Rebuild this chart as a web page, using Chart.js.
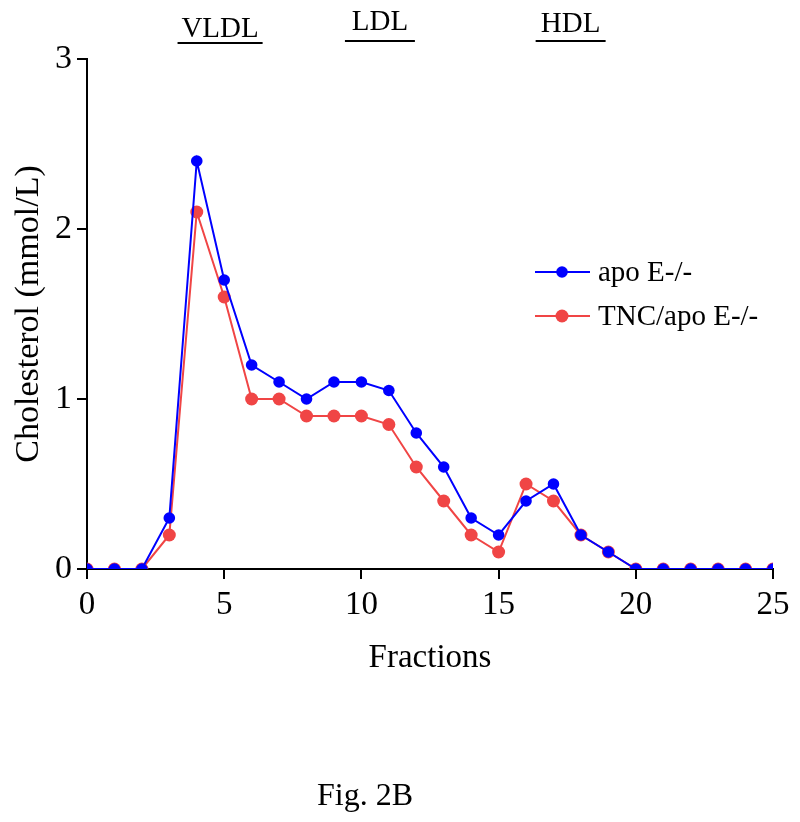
<!doctype html>
<html lang="en">
  <head>
    <meta charset="utf-8">
    <title>Fig. 2B</title>
    <style>
      * { margin: 0; padding: 0; }
      body { background: #fff; }
    </style>
  </head>
  <body>
    <canvas id="chart" width="800" height="822"></canvas>
    <script src="https://cdn.jsdelivr.net/npm/chart.js/dist/chart.umd.min.js"></script>
    <script>
    // data
    const fractions = [0,1,2,3,4,5,6,7,8,9,10,11,12,13,14,15,16,17,18,19,20,21,22,23,24,25];
    const apoE =    [0,0,0,0.3,2.4,1.7,1.2,1.1,1.0,1.1,1.1,1.05,0.8,0.6,0.3,0.2,0.4,0.5,0.2,0.1,0,0,0,0,0,0];
    const tncApoE = [0,0,0,0.2,2.1,1.6,1.0,1.0,0.9,0.9,0.9,0.85,0.6,0.4,0.2,0.1,0.5,0.4,0.2,0.1,0,0,0,0,0,0];
    const xTicks = [0, 5, 10, 15, 20, 25];
    const yTicks = [0, 1, 2, 3];
    // lipoprotein bands over the top, in fraction units
    const bandNames = ['VLDL', 'LDL', 'HDL'];
    const bandFrom = [3.3, 9.4, 16.35];
    const bandTo = [6.4, 11.95, 18.9];

    const FONT = 'Liberation Serif';
    const BLUE = '#0000ff';
    const RED = '#f04545';

    const toPoints = vals => vals.map((v, i) => ({x: fractions[i], y: v}));

    const overlay = {
      id: 'overlay',
      afterDraw(chart) {
        const {ctx, scales: {x}} = chart;
        ctx.save();
        ctx.fillStyle = '#000';
        ctx.strokeStyle = '#000';
        ctx.lineWidth = 2;
        // band labels
        const lineY = [43, 41, 41];
        const textY = [37, 30, 32];
        ctx.font = '29px "' + FONT + '"';
        ctx.textAlign = 'center';
        ctx.textBaseline = 'alphabetic';
        bandNames.forEach((name, i) => {
          const x0 = x.getPixelForValue(bandFrom[i]);
          const x1 = x.getPixelForValue(bandTo[i]);
          ctx.beginPath();
          ctx.moveTo(x0, lineY[i]);
          ctx.lineTo(x1, lineY[i]);
          ctx.stroke();
          ctx.fillText(name, (x0 + x1) / 2, textY[i]);
        });
        // legend
        ctx.font = '29px "' + FONT + '"';
        ctx.textAlign = 'left';
        ctx.textBaseline = 'middle';
        chart.data.datasets.forEach((ds, i) => {
          const y = 272 + i * 44;
          ctx.strokeStyle = ds.borderColor;
          ctx.beginPath();
          ctx.moveTo(535, y);
          ctx.lineTo(590, y);
          ctx.stroke();
          ctx.fillStyle = ds.backgroundColor;
          ctx.beginPath();
          ctx.arc(562, y, ds.pointRadius, 0, Math.PI * 2);
          ctx.fill();
          ctx.fillStyle = '#000';
          ctx.fillText(ds.label, 598, y + 1);
        });
        // caption
        ctx.font = '32px "' + FONT + '"';
        ctx.textAlign = 'center';
        ctx.textBaseline = 'alphabetic';
        ctx.fillText('Fig. 2B', 365, 805);
        ctx.restore();
      }
    };

    new Chart(document.getElementById('chart'), {
      type: 'line',
      data: {
        datasets: [{
          label: 'apo E-/-',
          data: toPoints(apoE),
          borderColor: BLUE,
          backgroundColor: BLUE,
          borderWidth: 2,
          pointRadius: 5.8,
          pointHoverRadius: 5.8,
          pointBorderWidth: 0,
          clip: 0
        }, {
          label: 'TNC/apo E-/-',
          data: toPoints(tncApoE),
          borderColor: RED,
          backgroundColor: RED,
          borderWidth: 2,
          pointRadius: 6.5,
          pointHoverRadius: 6.5,
          pointBorderWidth: 0,
          clip: 0
        }]
      },
      options: {
        responsive: false,
        animation: false,
        events: [],
        layout: {padding: {left: 0, top: 59, right: 27, bottom: 144}},
        plugins: {legend: {display: false}, tooltip: {enabled: false}},
        scales: {
          x: {
            type: 'linear',
            min: 0,
            max: 25,
            afterFit: s => { s.height = 109; },
            afterBuildTicks: s => { s.ticks = xTicks.map(v => ({value: v})); },
            grid: {drawOnChartArea: false, drawTicks: true, tickLength: 10, color: '#000', lineWidth: 2},
            border: {display: true, color: '#000', width: 2},
            ticks: {color: '#000', padding: 7, maxRotation: 0, font: {family: FONT, size: 33, lineHeight: 1.2}},
            title: {display: true, text: 'Fractions', color: '#000', padding: {top: 0, bottom: 0},
                    font: {family: FONT, size: 33, lineHeight: 1.2}}
          },
          y: {
            min: 0,
            max: 3,
            afterFit: s => { s.width = 87; },
            afterBuildTicks: s => { s.ticks = yTicks.map(v => ({value: v})); },
            grid: {drawOnChartArea: false, drawTicks: true, tickLength: 10, color: '#000', lineWidth: 2},
            border: {display: true, color: '#000', width: 2},
            ticks: {color: '#000', padding: 5, font: {family: FONT, size: 34, lineHeight: 1.2}},
            title: {display: true, text: 'Cholesterol (mmol/L)', color: '#000', padding: {top: 9, bottom: 0},
                    font: {family: FONT, size: 34, lineHeight: 1.2}}
          }
        }
      },
      plugins: [overlay]
    });
    </script>
  </body>
</html>
